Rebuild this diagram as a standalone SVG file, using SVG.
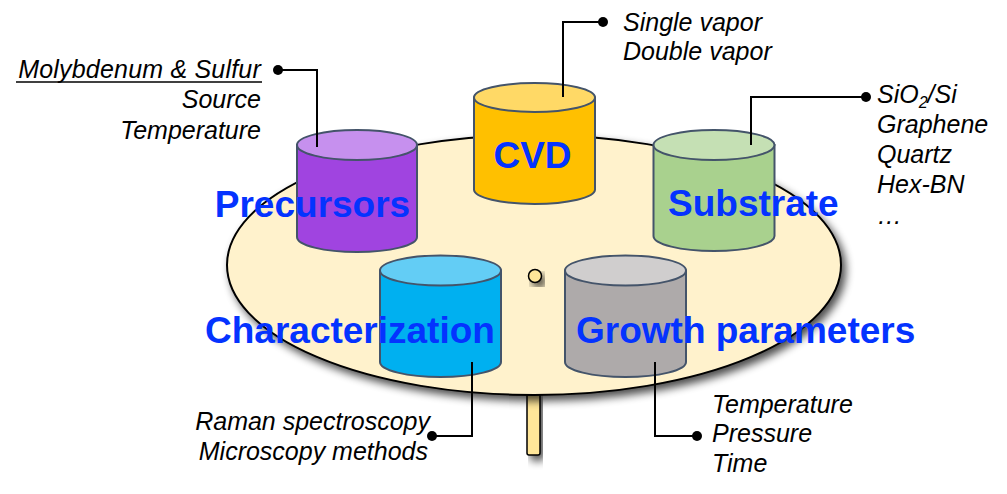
<svg xmlns="http://www.w3.org/2000/svg" width="1007" height="494" viewBox="0 0 1007 494">
<defs>
<filter id="sh" x="-20%" y="-20%" width="140%" height="150%">
<feGaussianBlur in="SourceAlpha" stdDeviation="4"/>
<feOffset dx="4" dy="5" result="b"/>
<feComponentTransfer><feFuncA type="linear" slope="0.7"/></feComponentTransfer>
<feMerge><feMergeNode/><feMergeNode in="SourceGraphic"/></feMerge>
</filter>
<style>
.bg{fill:#FFF2CC;stroke:#000;stroke-width:2}
.cyl{stroke:#44546A;stroke-width:2}
.lbl{font-family:"Liberation Sans",Arial,Helvetica,sans-serif;font-weight:bold;font-size:37px;fill:#0433FF}
.it{font-family:"Liberation Sans",Arial,Helvetica,sans-serif;font-style:italic;font-size:25px;fill:#000}
.ln{fill:none;stroke:#000;stroke-width:2}
.dot{fill:#000}
</style>
</defs>
<rect width="1007" height="494" fill="#fff"/>
<g id="base">
<rect x="527" y="392" width="13" height="63" rx="2" fill="#FFE699" stroke="#000" stroke-width="1.5" filter="url(#sh)"/>
<ellipse class="bg" cx="534" cy="265" rx="307" ry="130" filter="url(#sh)"/>
<circle cx="535" cy="276" r="6.5" fill="#FFE699" stroke="#000" stroke-width="1.5" filter="url(#sh)"/>
</g>
<g id="precursors">
<path class="cyl" fill="#A044E0" d="M297,145 V237 A60,15 0 0 0 417,237 V145 Z"/>
<ellipse class="cyl" fill="#C690EE" cx="357" cy="145" rx="60" ry="15"/>
<text class="lbl" x="312.5" y="217" text-anchor="middle">Precursors</text>
</g>
<g id="cvd">
<path class="cyl" fill="#FFC000" d="M474,97.5 V189.5 A60.5,14.5 0 0 0 595,189.5 V97.5 Z"/>
<ellipse class="cyl" fill="#FFD966" cx="534.5" cy="97.5" rx="60.5" ry="14.5"/>
<text class="lbl" x="532.5" y="168" text-anchor="middle">CVD</text>
</g>
<g id="substrate">
<path class="cyl" fill="#A9D18E" d="M653.5,145 V236 A60.5,15 0 0 0 774.5,236 V145 Z"/>
<ellipse class="cyl" fill="#C5E0B4" cx="714" cy="145" rx="60.5" ry="15"/>
<text class="lbl" x="668" y="216">Substrate</text>
</g>
<g id="characterization">
<path class="cyl" fill="#00B0F0" d="M380,270.5 V362 A60.5,15 0 0 0 501,362 V270.5 Z"/>
<ellipse class="cyl" fill="#63CDF5" cx="440.5" cy="270.5" rx="60.5" ry="15"/>
<text class="lbl" x="205" y="343">Characterization</text>
</g>
<g id="growth">
<path class="cyl" fill="#AEAAAA" d="M565,270.5 V362 A60.5,15 0 0 0 686,362 V270.5 Z"/>
<ellipse class="cyl" fill="#D0CECE" cx="625.5" cy="270.5" rx="60.5" ry="15"/>
<text class="lbl" x="576" y="343">Growth parameters</text>
</g>
<g id="connectors">
<path class="ln" d="M317,147 V70 H278"/>
<circle class="dot" cx="278" cy="70" r="5"/>
<path class="ln" d="M563,97 V22 H603"/>
<circle class="dot" cx="603" cy="22" r="5"/>
<path class="ln" d="M751,145 V97 H866"/>
<circle class="dot" cx="866" cy="97" r="5"/>
<path class="ln" d="M472,362 V436 H432"/>
<circle class="dot" cx="432" cy="436" r="5"/>
<path class="ln" d="M655,362 V436 H697"/>
<circle class="dot" cx="697" cy="436" r="5"/>
</g>
<g id="notes">
<text class="it" x="261" y="78" text-anchor="end" letter-spacing="0.2">Molybdenum &amp; Sulfur</text>
<line x1="16" y1="82" x2="262" y2="82" stroke="#000" stroke-width="1.5"/>
<text class="it" x="261" y="108" text-anchor="end">Source</text>
<text class="it" x="261" y="139" text-anchor="end">Temperature</text>
<text class="it" x="623" y="31">Single vapor</text>
<text class="it" x="623" y="60">Double vapor</text>
<text class="it" x="877" y="103">SiO<tspan font-size="16" dy="5">2</tspan><tspan dy="-5">/Si</tspan></text>
<text class="it" x="877" y="133">Graphene</text>
<text class="it" x="877" y="163">Quartz</text>
<text class="it" x="877" y="193">Hex-BN</text>
<text class="it" x="877" y="224">…</text>
<text class="it" x="430" y="430" text-anchor="end">Raman spectroscopy</text>
<text class="it" x="428" y="460" text-anchor="end">Microscopy methods</text>
<text class="it" x="712" y="413">Temperature</text>
<text class="it" x="712" y="442">Pressure</text>
<text class="it" x="712" y="472">Time</text>
</g>
</svg>
